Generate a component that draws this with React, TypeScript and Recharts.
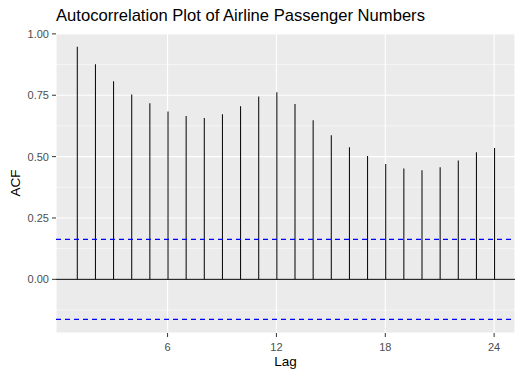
import React from 'react';
import {
  ComposedChart,
  Bar,
  XAxis,
  YAxis,
  CartesianGrid,
  ReferenceLine,
} from 'recharts';

const FONT = '"Liberation Sans", Arial, sans-serif';

const lags = [1, 2, 3, 4, 5, 6, 7, 8, 9, 10, 11, 12, 13, 14, 15, 16, 17, 18, 19, 20, 21, 22, 23, 24];
const acfValues = [
  0.948, 0.876, 0.807, 0.753, 0.717, 0.684, 0.665, 0.657, 0.673, 0.705, 0.745, 0.762,
  0.714, 0.648, 0.587, 0.538, 0.502, 0.47, 0.452, 0.444, 0.457, 0.484, 0.518, 0.535,
];
const ciLimit = 0.163; // 1.96 / sqrt(144)
const xTicks = [6, 12, 18, 24];
const yTicks = [0, 0.25, 0.5, 0.75, 1];
const yMinor = [-0.125, 0.125, 0.375, 0.625, 0.875];

const data = lags.map((lag, i) => ({ lag, acf: acfValues[i] }));

const YTitle = (props: any) => {
  const vb = props.viewBox || { x: 0, y: 33, width: 56, height: 300 };
  const cx = vb.x + 15;
  const cy = vb.y + vb.height / 2;
  return (
    <text
      x={cx}
      y={cy}
      transform={`rotate(-90, ${cx}, ${cy})`}
      textAnchor="middle"
      dominantBaseline="central"
      fontSize={13.5}
      fill="#000"
      fontFamily={FONT}
    >
      ACF
    </text>
  );
};

const XTitle = (props: any) => {
  const vb = props.viewBox || { x: 56, y: 333, width: 459, height: 45 };
  return (
    <text
      x={vb.x + vb.width / 2}
      y={366}
      textAnchor="middle"
      fontSize={13.5}
      fill="#000"
      fontFamily={FONT}
    >
      Lag
    </text>
  );
};

export default function App() {
  return (
    <div style={{ position: 'absolute', left: 0, top: 0, width: 523, height: 378, background: '#fff' }}>
      <div
        style={{
          position: 'absolute',
          left: 56,
          top: 8,
          fontFamily: FONT,
          fontSize: 16.6,
          lineHeight: '16px',
          color: '#000',
          whiteSpace: 'nowrap',
        }}
      >
        Autocorrelation Plot of Airline Passenger Numbers
      </div>
      <ComposedChart
        width={523}
        height={378}
        data={data}
        margin={{ top: 33, right: 8, left: 0, bottom: 0 }}
        style={{ fontFamily: FONT }}
      >
        <CartesianGrid fill="#EBEBEB" stroke="#FFFFFF" strokeWidth={1.1} />
        <CartesianGrid
          vertical={false}
          horizontalValues={yMinor}
          stroke="#FFFFFF"
          strokeWidth={0.55}
          fill="none"
        />
        <XAxis
          dataKey="lag"
          type="number"
          domain={[-0.15, 25.15]}
          ticks={xTicks}
          allowDataOverflow
          height={45}
          axisLine={false}
          tickSize={4}
          tickMargin={6}
          tickLine={{ stroke: '#333333' }}
          tick={{ fill: '#4D4D4D', fontSize: 11 }}
          label={<XTitle />}
        />
        <YAxis
          type="number"
          domain={[-0.2186, 1.0036]}
          ticks={yTicks}
          allowDataOverflow
          width={56}
          axisLine={false}
          tickSize={4}
          tickMargin={3}
          tickLine={{ stroke: '#333333' }}
          tick={{ fill: '#4D4D4D', fontSize: 11 }}
          tickFormatter={(v: number) => v.toFixed(2)}
          label={<YTitle />}
        />
        <ReferenceLine y={0} stroke="#000000" strokeWidth={1} />
        <Bar dataKey="acf" fill="#000000" barSize={1} isAnimationActive={false} />
        <ReferenceLine y={ciLimit} stroke="#0000FF" strokeDasharray="5 4" strokeWidth={1.1} />
        <ReferenceLine y={-ciLimit} stroke="#0000FF" strokeDasharray="5 4" strokeWidth={1.1} />
      </ComposedChart>
    </div>
  );
}
